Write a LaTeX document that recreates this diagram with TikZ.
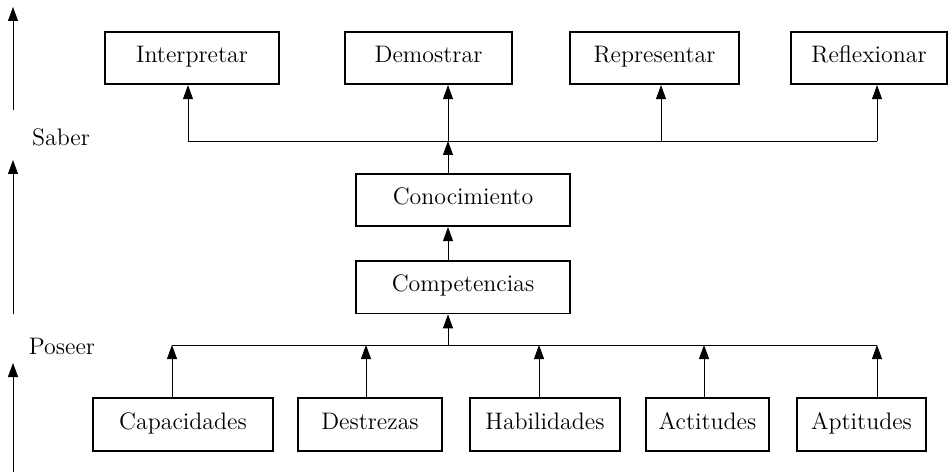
\documentclass[tikz,border=0pt]{standalone}
\usepackage{tikz}
\usetikzlibrary{positioning, arrows.meta}
\usetikzlibrary{calc}
\tikzstyle{caja} = [rectangle, minimum height=1.05cm, inner sep=0pt, text height=1.6ex, text depth=0.4ex, text centered, draw=black, line width=1pt]
\tikzstyle{flecha} = [line width=0.5pt,-{Triangle[length=2.8mm,width=2mm]}]
\tikzstyle{linea} = [line width=0.5pt]
\tikzstyle{every node}=[font=\fontsize{13.6}{16}\selectfont]

\begin{document}
\begin{tikzpicture}[x=0.02cm, y=-0.02cm]
    		\useasboundingbox (0,0) rectangle (952,473);
    		%cajas de arriba
    		\node (interp) [caja, minimum width=3.48cm] at (192,58) {Interpretar};
    		\node (demos) [caja, minimum width=3.34cm] at (428.5,58) {Demostrar};
    		\node (repre) [caja, minimum width=3.38cm] at (654.5,58) {Representar};
    		\node (refle) [caja, minimum width=3.12cm] at (869,58) {Reflexionar};
    		
    		%cajas del centro
    		\node (cono) [caja, minimum width=4.28cm] at (463,200) {Conocimiento};
    		\node (compe) [caja, minimum width=4.28cm, below=0.66cm of cono] {Competencias};
    		
    		%cajas de abajo
    		\node (capa) [caja, minimum width=3.6cm] at (183,424.5) {Capacidades};
    		\node (destre) [caja, minimum width=2.88cm] at (370,424.5) {Destrezas};
    		\node (habil) [caja, minimum width=3cm] at (545,424.5) {Habilidades};
    		\node (acti) [caja, minimum width=2.46cm] at (707.5,424.5) {Actitudes};
    		\node (apti) [caja, minimum width=2.58cm] at (861.5,424.5) {Aptitudes};
    		
    		%etiquetas de la izquierda
    		\node (saber) at (61,137) {Saber};
    		\node (poseer) at (62,346) {Poseer};
    		
    		%puntos de las lineas
    		\coordinate (s1) at (188,141);
    		\coordinate (s2) at (448,141);
    		\coordinate (s3) at (661,141);
    		\coordinate (s4) at (877,141);
    		\coordinate (p1) at (172,345);
    		\coordinate (p2) at (366,345);
    		\coordinate (pc) at (448,345);
    		\coordinate (p3) at (539,345);
    		\coordinate (p4) at (704,345);
    		\coordinate (p5) at (877,345);
    		\coordinate (a1) at (13,110);
    		\coordinate (a1t) at (13,7);
    		\coordinate (a2) at (13,314);
    		\coordinate (a2t) at (13,160);
    		\coordinate (a3) at (13,472);
    		\coordinate (a3t) at (13,363);
    		
    		%conectar las cajas
    		\draw [linea](s1) -- (s4);
    		\draw [flecha](s1) -- (s1 |- interp.south);
    		\draw [flecha](s2) -- (s2 |- demos.south);
    		\draw [flecha](s3) -- (s3 |- repre.south);
    		\draw [flecha](s4) -- (s4 |- refle.south);
    		\draw [flecha](s2 |- cono.north) -- (s2);
    		\draw [flecha](s2 |- compe.north) -- (s2 |- cono.south);
    		\draw [flecha](pc) -- (pc |- compe.south);
    		\draw [linea](p1) -- (p5);
    		\draw [flecha](p1 |- capa.north) -- (p1);
    		\draw [flecha](p2 |- destre.north) -- (p2);
    		\draw [flecha](p3 |- habil.north) -- (p3);
    		\draw [flecha](p4 |- acti.north) -- (p4);
    		\draw [flecha](p5 |- apti.north) -- (p5);
    		
    		%flechas de la izquierda
    		\draw [flecha](a1) -- (a1t);
    		\draw [flecha](a2) -- (a2t);
    		\draw [flecha](a3) -- (a3t);
    	\end{tikzpicture}
\end{document}
